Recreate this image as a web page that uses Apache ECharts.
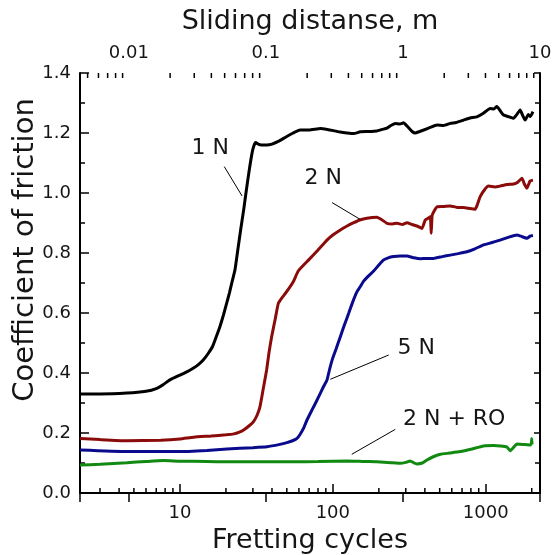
<!DOCTYPE html>
<html><head><meta charset="utf-8">
<script src="https://cdn.jsdelivr.net/npm/echarts@6/dist/echarts.min.js"></script>
<style>html,body{margin:0;padding:0;background:#fff}#c{width:557px;height:555px}</style>
</head><body><div id="c"></div>
<script>
// ---- data (fretting cycles, coefficient of friction) ----
const curve1N = [[2.22,0.330],[3,0.330],[4.5,0.333],[6,0.339],[7.0,0.348],[7.8,0.362],[8.6,0.377],[10,0.393],[11,0.403],[12.2,0.416],[13.2,0.428],[14.2,0.443],[15.3,0.465],[16.4,0.49],[17.4,0.525],[18.3,0.556],[19.3,0.595],[20.2,0.632],[21.1,0.668],[21.8,0.699],[22.9,0.743],[23.9,0.81],[25,0.88],[26.1,0.943],[27.2,1.01],[28.2,1.066],[29.6,1.132],[30.5,1.158],[31.3,1.168],[32.5,1.163],[34,1.16],[37,1.16],[40,1.163],[44,1.172],[48,1.183],[55,1.2],[61,1.21],[70,1.21],[83,1.215],[92,1.212],[101,1.208],[112,1.203],[124,1.2],[137,1.198],[151,1.204],[170,1.205],[194,1.207],[210,1.212],[226,1.216],[240,1.225],[256,1.232],[275,1.23],[290,1.234],[310,1.22],[330,1.205],[346,1.2],[370,1.205],[393,1.21],[430,1.218],[480,1.227],[530,1.225],[586,1.232],[640,1.235],[716,1.243],[790,1.25],[875,1.254],[960,1.265],[1069,1.282],[1130,1.28],[1183,1.288],[1240,1.275],[1307,1.26],[1400,1.255],[1520,1.249],[1600,1.262],[1680,1.277],[1740,1.26],[1812,1.243],[1900,1.262],[1960,1.255],[2036,1.271]];
const curve2N = [[2.22,0.182],[3,0.178],[4.5,0.174],[7.5,0.176],[10,0.18],[12.3,0.186],[16,0.19],[20,0.194],[22.5,0.197],[24.5,0.203],[26.1,0.21],[28.5,0.225],[30.3,0.238],[32,0.26],[33.4,0.288],[35,0.345],[36.9,0.41],[38.3,0.47],[39.8,0.521],[42,0.58],[44,0.632],[46.2,0.649],[49.9,0.671],[55.1,0.704],[59.4,0.74],[69.5,0.777],[80,0.81],[91.6,0.843],[100,0.86],[112,0.877],[124,0.89],[137,0.901],[150,0.91],[167,0.916],[194,0.919],[210,0.91],[226,0.899],[245,0.897],[263,0.899],[285,0.895],[305,0.901],[330,0.895],[355,0.89],[383,0.882],[402,0.91],[418,0.915],[434,0.921],[440,0.866],[446,0.925],[460,0.94],[480,0.954],[530,0.955],[586,0.957],[650,0.952],[716,0.952],[790,0.948],[853,0.946],[880,0.96],[920,0.988],[980,1.01],[1042,1.023],[1150,1.02],[1244,1.023],[1380,1.028],[1520,1.03],[1620,1.036],[1726,1.049],[1790,1.03],[1860,1.016],[1950,1.04],[2036,1.043]];
const curve5N = [[2.22,0.143],[4.5,0.138],[9.6,0.138],[15,0.142],[20.3,0.147],[30,0.151],[37.1,0.154],[45,0.162],[50.1,0.168],[55,0.175],[58.3,0.182],[61,0.195],[64.4,0.216],[68,0.245],[73.1,0.277],[78,0.305],[82.8,0.332],[87,0.355],[91.6,0.377],[95,0.41],[98.9,0.443],[105,0.48],[112,0.521],[119,0.56],[127,0.599],[135,0.637],[144,0.671],[152,0.69],[159,0.706],[170,0.722],[185,0.74],[200,0.76],[215,0.777],[230,0.784],[250,0.788],[275,0.79],[305,0.79],[340,0.784],[373,0.781],[410,0.782],[456,0.782],[520,0.788],[586,0.793],[660,0.798],[753,0.804],[850,0.814],[968,0.827],[1100,0.835],[1244,0.843],[1400,0.852],[1600,0.86],[1700,0.856],[1860,0.849],[1950,0.856],[2036,0.858]];
const curve2NRO = [[2.22,0.093],[3,0.096],[4.5,0.101],[6,0.105],[7.8,0.108],[10,0.106],[15,0.105],[20.3,0.104],[30,0.104],[55.4,0.104],[80,0.105],[124,0.107],[160,0.105],[194,0.104],[240,0.101],[276,0.099],[300,0.102],[321,0.107],[340,0.1],[355,0.097],[385,0.1],[413,0.11],[450,0.12],[505,0.129],[580,0.133],[681,0.138],[800,0.146],[968,0.157],[1125,0.158],[1250,0.157],[1371,0.154],[1446,0.141],[1520,0.152],[1600,0.163],[1750,0.162],[1954,0.16],[1990,0.165],[2000,0.182],[2010,0.162]];

// ---- axes ----
const cycleRange = [2.22, 2265];
const distanceRange = [0.0044, 10];
const cofRange = [0, 1.4];
const cycleMinorTicks = [3,4,5,6,7,8,9,20,30,40,50,60,70,80,90,200,300,400,500,600,700,800,900,2000];
const distanceMinorTicks = [0.005,0.006,0.007,0.008,0.009,0.02,0.03,0.04,0.05,0.06,0.07,0.08,0.09,0.2,0.3,0.4,0.5,0.6,0.7,0.8,0.9,2,3,4,5,6,7,8,9];
const yTitle = 'Coefficient of friction';

// ---- annotations (data coordinates) ----
const annotations = [
  {text:'1 N', at:[15.8,1.15], from:[19.5,1.088], to:[25.5,0.99]},
  {text:'2 N', at:[86.7,1.05], from:[98.9,0.968], to:[151,0.912]},
  {text:'5 N', at:[351,0.483], from:[232,0.46], to:[96.3,0.379]},
  {text:'2 N + RO', at:[622,0.247], from:[256,0.212], to:[133,0.129]}
];

const FONT = '"DejaVu Sans", Verdana, sans-serif';
const TXT = '#151515';

function powLabel(v){
  const l = Math.log10(v);
  if (Math.abs(l - Math.round(l)) > 1e-6) return '';
  return String(+Math.pow(10, Math.round(l)).toPrecision(1));
}

function lineSeries(name, data, color){
  return {type:'line', name, data, xAxisIndex:0, yAxisIndex:0, symbol:'none', showSymbol:false,
    smooth:0.15, lineStyle:{color, width:3}, animation:false, z:3};
}

const axisLineStyle = {show:true, lineStyle:{color:'#000', width:2}};

const option = {
  animation:false,
  backgroundColor:'#fff',
  grid:{left:80, right:17, top:73, bottom:62, containLabel:false, outerBoundsMode:'none'},
  graphic:[
    {type:'text', x:25, y:250, rotation:Math.PI/2,
     style:{text:yTitle, fill:TXT, font:'29px "DejaVu Sans"', align:'center', verticalAlign:'middle'}}
  ],
  xAxis:[
    {type:'log', logBase:10, min:cycleRange[0], max:cycleRange[1], position:'bottom',
     axisLine:axisLineStyle, axisTick:{inside:true, length:9, lineStyle:{color:'#000', width:1.5}},
     axisLabel:{formatter:powLabel, fontSize:18, color:TXT, fontFamily:FONT, margin:11, interval:0},
     splitLine:{show:false},
     name:'Fretting cycles', nameLocation:'middle', nameGap:34,
     nameTextStyle:{fontSize:27, color:TXT, fontFamily:FONT}},
    {type:'log', logBase:10, min:distanceRange[0], max:distanceRange[1], position:'top',
     axisLine:axisLineStyle, axisTick:{inside:true, length:9, lineStyle:{color:'#000', width:1.5}},
     axisLabel:{formatter:powLabel, fontSize:18, color:TXT, fontFamily:FONT, margin:11, interval:0},
     splitLine:{show:false},
     name:'Sliding distanse, m', nameLocation:'middle', nameGap:38,
     nameTextStyle:{fontSize:27, color:TXT, fontFamily:FONT}}
  ],
  yAxis:[
    {type:'value', min:cofRange[0], max:cofRange[1], interval:0.2, position:'left',
     axisLine:axisLineStyle, axisTick:{inside:true, length:9, lineStyle:{color:'#000', width:1.5}},
     minorTick:{show:true, splitNumber:2, length:5, lineStyle:{color:'#000', width:1.5}},
     axisLabel:{formatter:v=>v.toFixed(1), fontSize:18, color:TXT, fontFamily:FONT, margin:9},
     splitLine:{show:false}},
    {type:'value', min:cofRange[0], max:cofRange[1], interval:0.2, position:'right',
     axisLine:axisLineStyle, axisTick:{inside:true, length:6, lineStyle:{color:'#000', width:1.5}},
     minorTick:{show:true, splitNumber:2, length:5, lineStyle:{color:'#000', width:1.5}},
     axisLabel:{show:false}, splitLine:{show:false}}
  ],
  series:[
    lineSeries('1 N', curve1N, '#000000'),
    lineSeries('2 N', curve2N, '#8b0a0a'),
    lineSeries('5 N', curve5N, '#0a0a8c'),
    lineSeries('2 N + RO', curve2NRO, '#128a12'),
    {type:'custom', xAxisIndex:0, yAxisIndex:0, clip:false, silent:true, z:2,
     data: cycleMinorTicks.map(v=>[v, cofRange[0]]),
     renderItem:(params, api)=>{
       const p = api.coord([api.value(0), api.value(1)]);
       return {type:'line', shape:{x1:p[0], y1:p[1], x2:p[0], y2:p[1]-5}, style:{stroke:'#000', lineWidth:1.5}};
     }},
    {type:'custom', xAxisIndex:1, yAxisIndex:0, clip:false, silent:true, z:2,
     data: distanceMinorTicks.map(v=>[v, cofRange[1]]),
     renderItem:(params, api)=>{
       const p = api.coord([api.value(0), api.value(1)]);
       return {type:'line', shape:{x1:p[0], y1:p[1], x2:p[0], y2:p[1]+5}, style:{stroke:'#000', lineWidth:1.5}};
     }},
    {type:'custom', xAxisIndex:0, yAxisIndex:0, clip:false, silent:true, z:4,
     data: annotations.map(a=>a.at),
     renderItem:(params, api)=>{
       const a = annotations[params.dataIndex];
       const t = api.coord(a.at), p1 = api.coord(a.from), p2 = api.coord(a.to);
       return {type:'group', children:[
         {type:'line', shape:{x1:p1[0], y1:p1[1], x2:p2[0], y2:p2[1]}, style:{stroke:'#000', lineWidth:1}},
         {type:'text', x:t[0], y:t[1], style:{text:a.text, fill:TXT, font:'22px "DejaVu Sans"', align:'center', verticalAlign:'middle'}}
       ]};
     }}
  ]
};

const chart = echarts.init(document.getElementById('c'), null, {renderer:'canvas'});
chart.setOption(option);
</script>
</body></html>
